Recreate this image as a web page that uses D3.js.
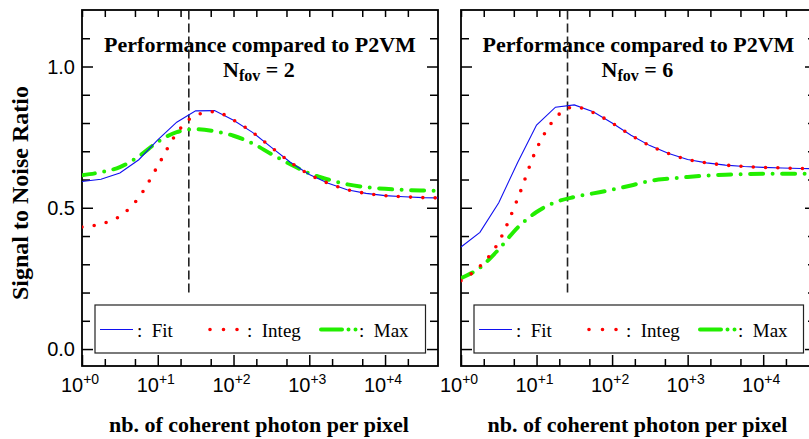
<!DOCTYPE html>
<html>
<head>
<meta charset="utf-8">
<script src="https://cdn.jsdelivr.net/npm/d3@7"></script>
<style>
  html, body { margin: 0; padding: 0; background: #fff; }
  svg { display: block; }
</style>
</head>
<body>
<svg id="chart" width="809" height="439"></svg>
<script>
// ---------------- data ----------------
const photons = [1, 1.78, 3.16, 5.62, 10, 17.8, 31.6, 56.2, 100, 178, 316, 562,
                 1000, 1780, 3160, 5620, 10000, 17800, 31600, 50000];

const fit2   = [0.593, 0.601, 0.623, 0.670, 0.740, 0.803, 0.843, 0.844, 0.810, 0.767,
                0.714, 0.661, 0.618, 0.587, 0.564, 0.551, 0.543, 0.539, 0.536, 0.535];
const integ2 = [0.432, 0.443, 0.470, 0.536, 0.648, 0.764, 0.827, 0.840, 0.810, 0.767,
                0.714, 0.661, 0.618, 0.587, 0.564, 0.551, 0.543, 0.539, 0.536, 0.535];
const max2   = [0.615, 0.626, 0.644, 0.682, 0.733, 0.768, 0.778, 0.771, 0.755, 0.728,
                0.690, 0.654, 0.622, 0.600, 0.583, 0.573, 0.567, 0.563, 0.561, 0.560];

const fit6   = [0.361, 0.413, 0.518, 0.660, 0.793, 0.856, 0.864, 0.840, 0.800, 0.757,
                0.720, 0.692, 0.671, 0.659, 0.651, 0.646, 0.643, 0.641, 0.639, 0.638];
const integ6 = [0.242, 0.293, 0.379, 0.532, 0.708, 0.818, 0.857, 0.837, 0.800, 0.757,
                0.720, 0.692, 0.671, 0.659, 0.651, 0.646, 0.643, 0.641, 0.639, 0.638];
const max6   = [0.251, 0.288, 0.353, 0.430, 0.485, 0.520, 0.538, 0.551, 0.564, 0.579,
                0.595, 0.603, 0.609, 0.614, 0.617, 0.619, 0.620, 0.620, 0.620, 0.620];

const xMajorTicks = [1, 10, 100, 1000, 10000];
const xMajorLabels = ["+0", "+1", "+2", "+3", "+4"];
const xMinorTicks = [2, 5, 20, 50, 200, 500, 2000, 5000, 20000];
const yMajorTicks = [0, 0.5, 1.0];
const yMajorLabels = ["0.0", "0.5", "1.0"];
const yMinorTicks = [0.1, 0.2, 0.3, 0.4, 0.6, 0.7, 0.8, 0.9, 1.1];
const optimumPhotons = 25.7;
const seriesNames = ["Fit", "Integ", "Max"];
const titleLine1 = "Performance compared to P2VM";
const nfovValues = [2, 6];
const xTitle = "nb. of coherent photon per pixel";
const yTitle = "Signal to Noise Ratio";

// ---------------- layout ----------------
const svg = d3.select("#chart");
svg.append("rect").attr("width", 809).attr("height", 439).attr("fill", "#fff");

const plotTop = 10, plotBottom = 366;
const panels = [
  { x0: 82,  x1: 438, fit: fit2, integ: integ2, max: max2, nfov: nfovValues[0], yLabels: true },
  { x0: 461, x1: 816, fit: fit6, integ: integ6, max: max6, nfov: nfovValues[1], yLabels: false }
];

const y = d3.scaleLinear().domain([-0.06, 1.2]).range([plotBottom, plotTop]);

const SERIF = "'Liberation Serif', 'Times New Roman', serif";
const SANS = "'Liberation Sans', Arial, Helvetica, sans-serif";
const colors = { fit: "#1010f0", integ: "#ff0000", max: "#22ee00" };

panels.forEach((p, pi) => {
  const x = d3.scaleLog().domain([1, 50000]).range([p.x0, p.x1]);
  const g = svg.append("g");
  const clipId = "clip" + pi;
  svg.append("clipPath").attr("id", clipId).append("rect")
    .attr("x", p.x0).attr("y", plotTop).attr("width", p.x1 - p.x0).attr("height", plotBottom - plotTop);

  // ----- ticks (inward) -----
  const axStyle = sel => {
    sel.select(".domain").remove();
    sel.selectAll(".tick line").attr("stroke", "#000").attr("stroke-width", 1.5);
    sel.selectAll(".tick text").remove();
  };
  g.append("g").attr("transform", `translate(0,${plotBottom})`)
    .call(d3.axisBottom(x).tickValues(xMajorTicks).tickSize(-11).tickFormat("")).call(axStyle);
  g.append("g").attr("transform", `translate(0,${plotBottom})`)
    .call(d3.axisBottom(x).tickValues(xMinorTicks).tickSize(-7).tickFormat("")).call(axStyle);
  g.append("g").attr("transform", `translate(0,${plotTop})`)
    .call(d3.axisTop(x).tickValues(xMajorTicks.concat(xMinorTicks)).tickSize(-7).tickFormat("")).call(axStyle);
  g.append("g").attr("transform", `translate(${p.x0},0)`)
    .call(d3.axisLeft(y).tickValues(yMajorTicks).tickSize(-11).tickFormat("")).call(axStyle);
  g.append("g").attr("transform", `translate(${p.x0},0)`)
    .call(d3.axisLeft(y).tickValues(yMinorTicks).tickSize(-8).tickFormat("")).call(axStyle);
  g.append("g").attr("transform", `translate(${p.x1},0)`)
    .call(d3.axisRight(y).tickValues(yMajorTicks).tickSize(-11).tickFormat("")).call(axStyle);
  g.append("g").attr("transform", `translate(${p.x1},0)`)
    .call(d3.axisRight(y).tickValues(yMinorTicks).tickSize(-8).tickFormat("")).call(axStyle);

  // frame
  g.append("rect").attr("x", p.x0).attr("y", plotTop)
    .attr("width", p.x1 - p.x0).attr("height", plotBottom - plotTop)
    .attr("fill", "none").attr("stroke", "#000").attr("stroke-width", 1.8);

  // x tick labels
  xMajorTicks.forEach((v, i) => {
    const t = g.append("text").attr("x", x(v) - 2).attr("y", 392)
      .attr("text-anchor", "middle").attr("font-family", SANS).attr("font-size", 20).attr("fill", "#000");
    t.append("tspan").text("10");
    t.append("tspan").attr("dy", -8).attr("font-size", 14).text(xMajorLabels[i]);
  });
  // y tick labels
  if (p.yLabels) {
    yMajorTicks.forEach((v, i) => {
      g.append("text").attr("x", p.x0 - 7).attr("y", y(v)).attr("dy", "0.36em")
        .attr("text-anchor", "end").attr("font-family", SANS).attr("font-size", 20)
        .attr("fill", "#000").text(yMajorLabels[i]);
    });
  }

  // x axis title
  g.append("text").attr("x", (p.x0 + p.x1) / 2 - 1).attr("y", 432)
    .attr("text-anchor", "middle").attr("font-family", SERIF).attr("font-weight", "bold")
    .attr("font-size", 22).attr("fill", "#000").text(xTitle);

  // title (two lines in one text element)
  const cx = (p.x0 + p.x1) / 2;
  const tt = g.append("text").attr("text-anchor", "middle")
    .attr("font-family", SERIF).attr("font-weight", "bold").attr("font-size", 22).attr("fill", "#000");
  tt.append("tspan").attr("x", cx).attr("y", 52).text(titleLine1);
  tt.append("tspan").attr("x", cx - 1).attr("y", 76.5).text("N");
  tt.append("tspan").attr("dy", 4).attr("font-size", 16).text("fov");
  tt.append("tspan").attr("dy", -4).text("\u00a0=\u00a0" + p.nfov);

  // dashed vertical line
  g.append("line").attr("x1", x(optimumPhotons)).attr("x2", x(optimumPhotons))
    .attr("y1", y(0.2)).attr("y2", y(1.2))
    .attr("stroke", "#222").attr("stroke-width", 1.6).attr("stroke-dasharray", "9,4");

  // curves
  const cg = g.append("g").attr("clip-path", `url(#${clipId})`);
  const lineLin = d3.line().x((d, i) => x(photons[i])).y(d => y(d));
  const lineSmooth = d3.line().x((d, i) => x(photons[i])).y(d => y(d)).curve(d3.curveMonotoneX);

  cg.append("path").datum(p.max).attr("d", lineSmooth).attr("fill", "none")
    .attr("stroke", colors.max).attr("stroke-width", 4).attr("stroke-linecap", "round")
    .attr("stroke-dasharray", "13,9.5,0,9.5");
  cg.append("path").datum(p.fit).attr("d", lineLin).attr("fill", "none")
    .attr("stroke", colors.fit).attr("stroke-width", 1.1);
  cg.append("path").datum(p.integ).attr("d", lineSmooth).attr("fill", "none")
    .attr("stroke", colors.integ).attr("stroke-width", 3.6).attr("stroke-linecap", "round")
    .attr("stroke-dasharray", "0,12.3");

  // legend
  const bx = p.x0 + 13, bw = (p.x1 - 12.5) - bx;
  const lg = g.append("g");
  lg.append("rect").attr("x", bx).attr("y", 305).attr("width", bw).attr("height", 48)
    .attr("fill", "#fff").attr("stroke", "#222").attr("stroke-width", 1.2);
  const ly = 329.5, ty = 336.5;
  lg.append("line").attr("x1", bx + 5).attr("x2", bx + 38).attr("y1", ly).attr("y2", ly)
    .attr("stroke", colors.fit).attr("stroke-width", 1.1);
  lg.append("line").attr("x1", bx + 115).attr("x2", bx + 143).attr("y1", ly).attr("y2", ly)
    .attr("stroke", colors.integ).attr("stroke-width", 3.6).attr("stroke-linecap", "round")
    .attr("stroke-dasharray", "0,13.5");
  lg.append("line").attr("x1", bx + 226).attr("x2", bx + 262).attr("y1", ly).attr("y2", ly)
    .attr("stroke", colors.max).attr("stroke-width", 4).attr("stroke-linecap", "round")
    .attr("stroke-dasharray", "21,6.5,0,7,0,30");
  const entries = [[bx + 42, seriesNames[0]], [bx + 152, seriesNames[1]], [bx + 264, seriesNames[2]]];
  entries.forEach(([ex, name]) => {
    lg.append("text").attr("x", ex).attr("y", ty).attr("font-family", SERIF)
      .attr("font-size", 19).attr("fill", "#000").attr("xml:space", "preserve")
      .text(":\u00a0 " + name);
  });
});

// y axis title
svg.append("text").attr("transform", "translate(28,193) rotate(-90)")
  .attr("text-anchor", "middle").attr("font-family", SERIF).attr("font-weight", "bold")
  .attr("font-size", 24).attr("fill", "#000").text(yTitle);
</script>
</body>
</html>
